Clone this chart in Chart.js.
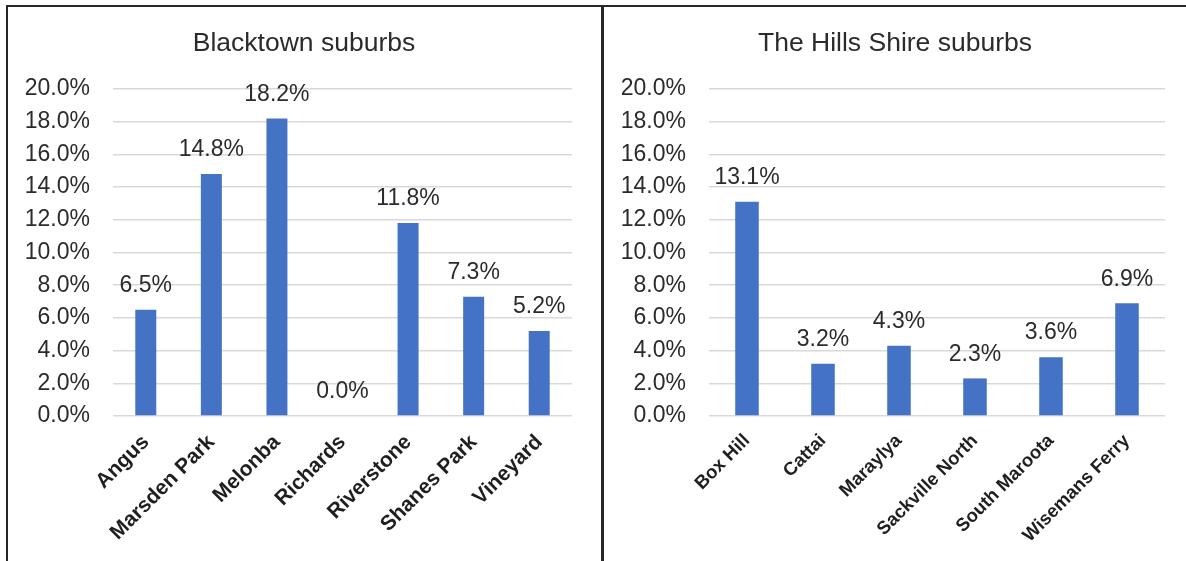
<!DOCTYPE html>
<html>
<head>
<meta charset="utf-8">
<script src="https://cdn.jsdelivr.net/npm/chart.js@4.4.1/dist/chart.umd.min.js"></script>
<style>
  html, body { margin: 0; padding: 0; background: #fff; }
  body { width: 1186px; height: 561px; position: relative; overflow: hidden; font-family: "Liberation Sans", Arial, sans-serif; }
  .frame-top { position: absolute; left: 6px; top: 5px; width: 1180px; height: 2px; background: #262626; }
  .frame-left { position: absolute; left: 6px; top: 5px; width: 2px; height: 556px; background: #262626; }
  .frame-mid { position: absolute; left: 601px; top: 5px; width: 3px; height: 556px; background: #262626; }
  .panel { position: absolute; top: 7px; height: 554px; }
  #p1 { left: 8px; width: 592px; }
  #p2 { left: 604px; width: 582px; }
</style>
</head>
<body>
<div class="frame-top"></div>
<div class="frame-left"></div>
<div class="frame-mid"></div>
<div class="panel" id="p1"><canvas id="blacktownChart"></canvas></div>
<div class="panel" id="p2"><canvas id="hillsChart"></canvas></div>
<script>
// values in percent
const blacktownSuburbs = ['Angus', 'Marsden Park', 'Melonba', 'Richards', 'Riverstone', 'Shanes Park', 'Vineyard'];
const blacktownShare = [6.5, 14.8, 18.2, 0.0, 11.8, 7.3, 5.2];

const hillsSuburbs = ['Box Hill', 'Cattai', 'Maraylya', 'Sackville North', 'South Maroota', 'Wisemans Ferry'];
const hillsShare = [13.1, 3.2, 4.3, 2.3, 3.6, 6.9];

const yMax = 20;
const yStep = 2;

const barColor = '#4472C4';
const textColor = '#2b2b2b';
const gridColor = '#d9d9d9';
const fontFamily = '"Liberation Sans", Arial, sans-serif';

// draws the value above each bar
const barLabels = {
  id: 'barLabels',
  afterDatasetsDraw(chart) {
    const ctx = chart.ctx;
    const meta = chart.getDatasetMeta(0);
    ctx.save();
    ctx.font = '23px ' + fontFamily;
    ctx.fillStyle = textColor;
    ctx.textAlign = 'center';
    ctx.textBaseline = 'middle';
    meta.data.forEach((bar, i) => {
      const v = chart.data.datasets[0].data[i];
      ctx.fillText(v.toFixed(1) + '%', bar.x, bar.y - 24);
    });
    ctx.restore();
  }
};

// title centred on the whole panel, not on the padded box
const panelTitle = {
  id: 'panelTitle',
  afterDraw(chart, args, opts) {
    const ctx = chart.ctx;
    ctx.save();
    ctx.font = '26.5px ' + fontFamily;
    ctx.fillStyle = textColor;
    ctx.textAlign = 'center';
    ctx.textBaseline = 'middle';
    ctx.fillText(opts.text, chart.width / 2, 37);
    ctx.restore();
  }
};

function makeChart(id, title, labels, values, opts) {
  const ctx = document.getElementById(id);
  return new Chart(ctx, {
    type: 'bar',
    data: {
      labels: labels,
      datasets: [{
        data: values,
        backgroundColor: barColor,
        categoryPercentage: 1,
        barPercentage: opts.barPct
      }]
    },
    plugins: [barLabels, panelTitle],
    options: {
      responsive: true,
      maintainAspectRatio: false,
      animation: false,
      layout: {
        padding: { left: 0, right: opts.padRight, top: 82, bottom: 0 }
      },
      plugins: {
        legend: { display: false },
        tooltip: { enabled: false },
        title: { display: false },
        panelTitle: { text: title }
      },
      scales: {
        x: {
          grid: { display: false },
          border: { display: false },
          afterFit: function(scale) { scale.height = 145; },
          ticks: {
            autoSkip: false,
            minRotation: 45,
            maxRotation: 45,
            padding: opts.xPad,
            color: '#1f1f1f',
            font: { family: fontFamily, size: opts.xFont, weight: 'bold' }
          }
        },
        y: {
          min: 0,
          max: yMax,
          border: { display: false },
          afterFit: function(scale) { scale.width = opts.yWidth; },
          grid: { color: gridColor, lineWidth: 1.5, drawTicks: false },
          ticks: {
            stepSize: yStep,
            padding: opts.yPad,
            color: textColor,
            font: { family: fontFamily, size: 23 },
            callback: function(value) { return value.toFixed(1) + '%'; }
          }
        }
      }
    }
  });
}

makeChart('blacktownChart', 'Blacktown suburbs', blacktownSuburbs, blacktownShare,
  { barPct: 0.32, padRight: 28, yWidth: 105, yPad: 23, xFont: 21, xPad: 6 });
makeChart('hillsChart', 'The Hills Shire suburbs', hillsSuburbs, hillsShare,
  { barPct: 0.31, padRight: 21, yWidth: 105, yPad: 23, xFont: 18.5, xPad: 6 });
</script>
</body>
</html>
